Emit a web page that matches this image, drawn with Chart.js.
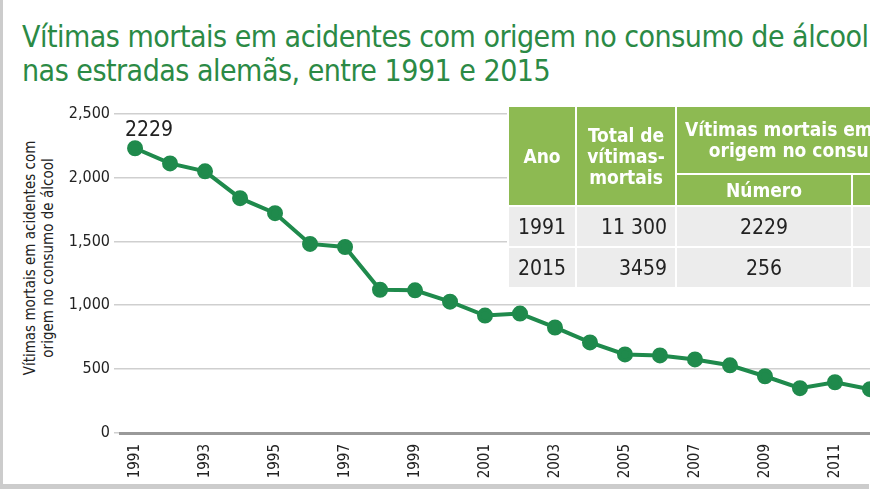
<!DOCTYPE html>
<html><head><meta charset="utf-8">
<script src="https://cdn.jsdelivr.net/npm/chart.js@4/dist/chart.umd.min.js"></script>
<style>
body{margin:0;width:870px;height:490px;overflow:hidden;background:#fff;position:relative;font-family:"DejaVu Sans Condensed","Liberation Sans Narrow",sans-serif;}
#frame{position:absolute;left:0;top:0;width:866px;height:484px;border-left:3px solid #ccc;border-bottom:5px solid #ccc;pointer-events:none;z-index:5}
#title{position:absolute;left:22px;top:20px;color:#2b8a45;font-size:30px;line-height:34px;white-space:nowrap;letter-spacing:-0.5px}
#wrap{position:absolute;left:0;top:100px;width:1000px;height:390px}
#ytitle{position:absolute;left:16px;top:108px;width:46px;height:300px;}
#ytitle div{position:absolute;left:50%;top:50%;transform:translate(-50%,-50%) rotate(-90deg);white-space:nowrap;text-align:center;font-size:15px;line-height:18px;color:#222}
table{position:absolute;left:507px;top:105px;border-collapse:collapse;font-size:21px;z-index:3;table-layout:fixed;width:480px}
th{background:#8dba52;color:#fff;font-weight:bold;border:2px solid #fff;font-size:19px;line-height:21px;padding:0;white-space:nowrap;overflow:hidden}
td{background:#ececec;color:#222;border:2px solid #fff;text-align:right;padding:0 8px;height:39px;white-space:nowrap}
</style></head><body>
<div id="title">Vítimas mortais em acidentes com origem no consumo de álcool<br>nas estradas alemãs, entre 1991 e 2015</div>
<div id="ytitle"><div>Vítimas mortais em acidentes com<br>origem no consumo de álcool</div></div>
<div id="wrap"><canvas id="c" width="1000" height="390" style="width:1000px;height:390px"></canvas></div>
<table>
<colgroup><col style="width:68px"><col style="width:100px"><col style="width:176px"><col style="width:136px"></colgroup>
<tr><th rowspan="2" style="height:98px">Ano</th><th rowspan="2">Total de<br>vítimas-<br>mortais</th><th colspan="2" style="height:66px;text-align:left;padding-left:8px">Vítimas mortais em acidentes com<br>&nbsp;&nbsp;&nbsp;&nbsp;origem no consumo de álcool</th></tr>
<tr><th style="height:30px">Número</th><th>%</th></tr>
<tr><td style="text-align:center">1991</td><td>11 300</td><td style="text-align:center">2229</td><td style="text-align:center">19,7</td></tr>
<tr><td style="text-align:center">2015</td><td>3459</td><td style="text-align:center">256</td><td style="text-align:center">7,4</td></tr>
</table>
<div id="frame"></div>
<script>
const years=[1991,1992,1993,1994,1995,1996,1997,1998,1999,2000,2001,2002,2003,2004,2005,2006,2007,2008,2009,2010,2011,2012,2013,2014,2015];
const deaths=[2229,2110,2048,1838,1721,1480,1456,1121,1117,1028,919,935,826,709,615,607,576,530,444,351,397,343,314,260,256];
const yTicks=[0,500,1000,1500,2000,2500];
const xTicks=[1991,1993,1995,1997,1999,2001,2003,2005,2007,2009,2011,2013,2015];
const green='#1f8a4c';
const font="'DejaVu Sans Condensed','Liberation Sans Narrow',sans-serif";
const labelPlugin={id:'lbl',afterDatasetsDraw(ch){const m=ch.getDatasetMeta(0).data[0];const c=ch.ctx;c.save();c.font="21px "+font;c.fillStyle='#222';c.textAlign='left';c.fillText(String(deaths[0]),m.x-10,m.y-12);c.restore();}};
new Chart(document.getElementById('c'),{type:'line',
data:{datasets:[{data:years.map((y,i)=>({x:y,y:deaths[i]})),borderColor:green,backgroundColor:green,borderWidth:4,pointRadius:6,pointHoverRadius:6,tension:0}]},
options:{responsive:false,animation:false,maintainAspectRatio:false,
layout:{padding:{left:0,right:10,top:12,bottom:0}},
plugins:{legend:{display:false},tooltip:{enabled:false}},
scales:{
x:{type:'linear',min:1990.57,max:2015.43,
afterBuildTicks:s=>{s.ticks=xTicks.map(v=>({value:v}))},
afterFit:s=>{s.height=57},
grid:{display:false},border:{color:'#999',width:3},
ticks:{autoSkip:false,minRotation:90,maxRotation:90,color:'#222',font:{family:font,size:15},callback:v=>String(v)}},
y:{min:0,max:2500,
afterBuildTicks:s=>{s.ticks=yTicks.map(v=>({value:v}))},
afterFit:s=>{s.width=120},
grid:{color:'#cfcfcf',lineWidth:1.5,drawTicks:true,tickLength:6},border:{display:false},
ticks:{color:'#222',font:{family:font,size:16},padding:4}}}},
plugins:[labelPlugin]});
</script>
</body></html>
